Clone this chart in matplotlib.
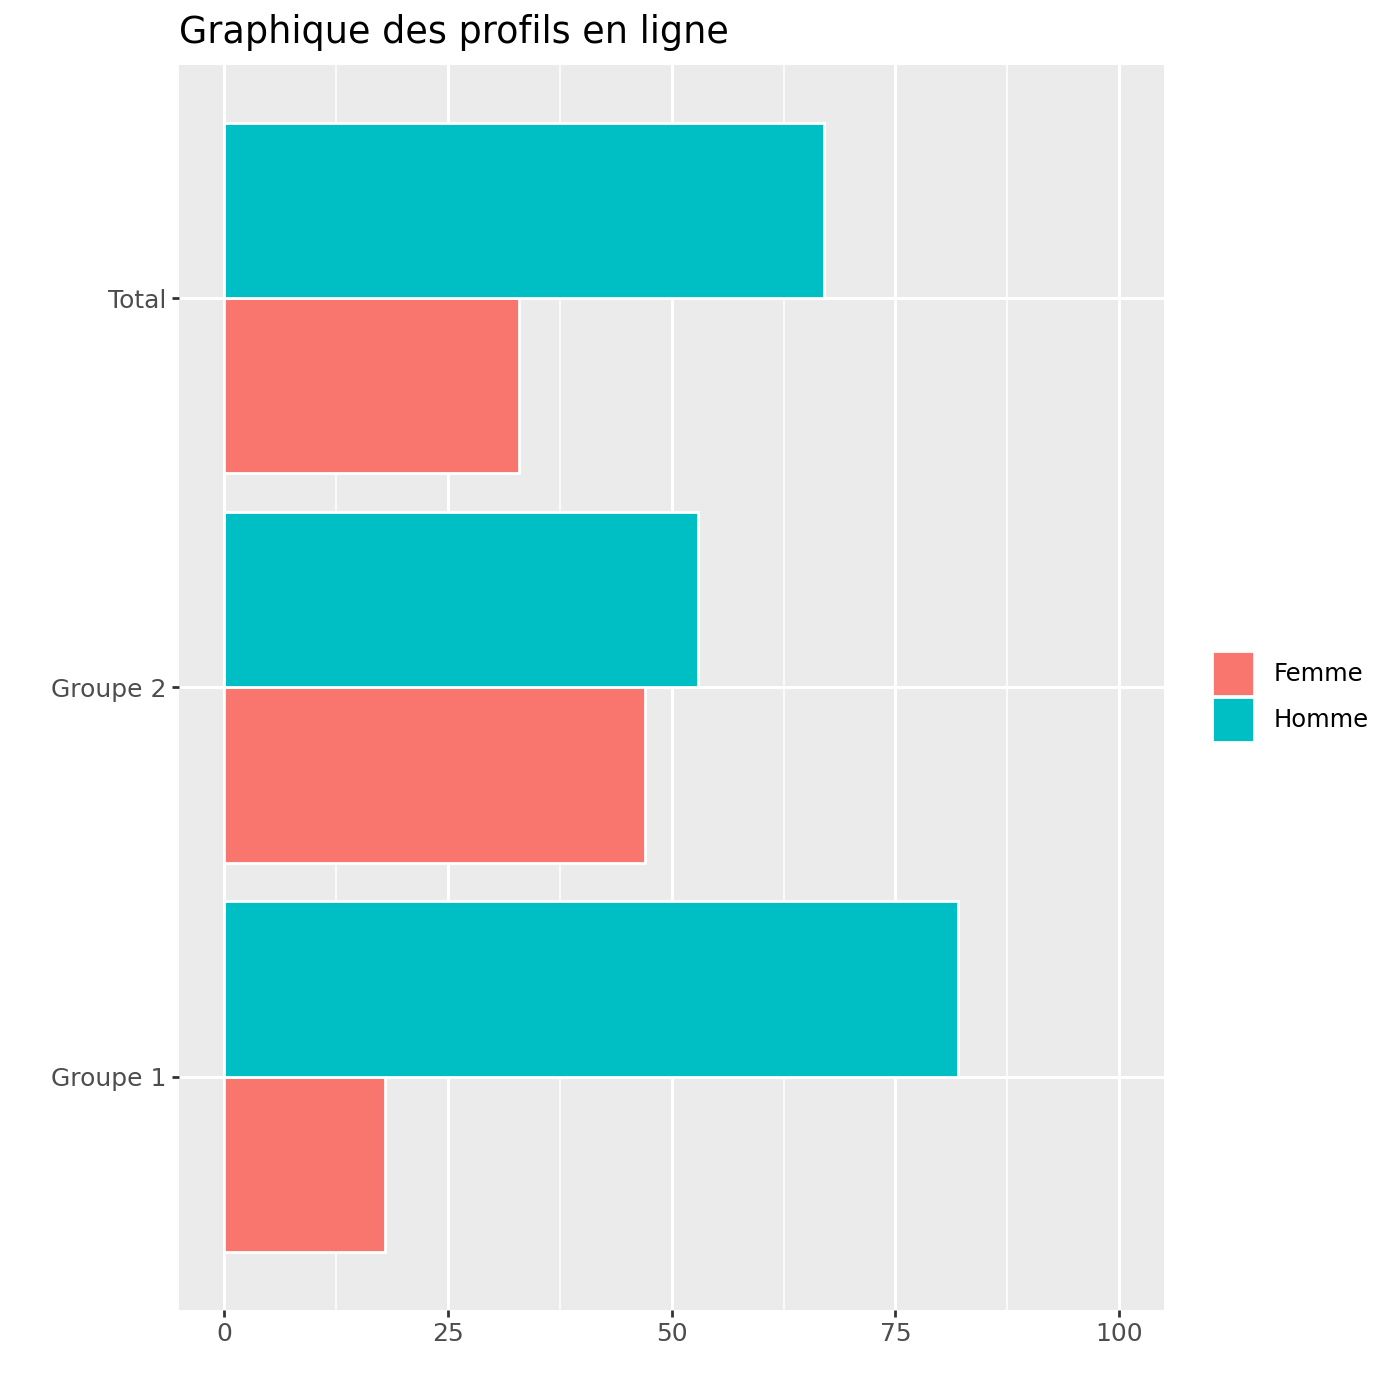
import matplotlib.pyplot as plt
from matplotlib.patches import Patch
import numpy as np

# data
groupes = ["Groupe 1", "Groupe 2", "Total"]
femme = [18, 47, 33]
homme = [82, 53, 67]
x_ticks = [0, 25, 50, 75, 100]

c_femme = "#F8766D"
c_homme = "#00BFC4"

fig = plt.figure(figsize=(14, 14), dpi=100)
ax = fig.add_axes([0.1279, 0.0643, 0.7036, 0.8893])
ax.set_facecolor("#EBEBEB")

y = np.arange(1, len(groupes) + 1)
w = 0.45
ax.barh(y - w / 2, femme, height=w, color=c_femme, edgecolor="white", linewidth=2, zorder=3)
ax.barh(y + w / 2, homme, height=w, color=c_homme, edgecolor="white", linewidth=2, zorder=3)

ax.set_xlim(-5, 105)
ax.set_ylim(0.4, 3.6)
ax.set_xticks(x_ticks)
ax.set_xticks([12.5, 37.5, 62.5, 87.5], minor=True)
ax.set_yticks(y)
ax.set_yticklabels(groupes)

ax.grid(True, which="major", color="white", linewidth=2.2, zorder=0)
ax.grid(True, which="minor", axis="x", color="white", linewidth=1.1, zorder=0)
ax.tick_params(which="major", length=5, width=2, color="#333333", labelsize=18,
               labelcolor="#4D4D4D", pad=4)
ax.tick_params(which="minor", length=0)
for s in ax.spines.values():
    s.set_visible(False)

ax.set_title("Graphique des profils en ligne", loc="left", fontsize=26.3, pad=16)

handles = [Patch(facecolor=c_femme, edgecolor="white", linewidth=2),
           Patch(facecolor=c_homme, edgecolor="white", linewidth=2)]
fig.legend(handles, ["Femme", "Homme"], loc="center left", bbox_to_anchor=(0.8586, 0.5025),
           frameon=False, fontsize=17.5, handlelength=1.73, handleheight=2.47,
           handletextpad=0.8, labelspacing=0.05, borderaxespad=0)

fig.savefig("out.png", dpi=100)
